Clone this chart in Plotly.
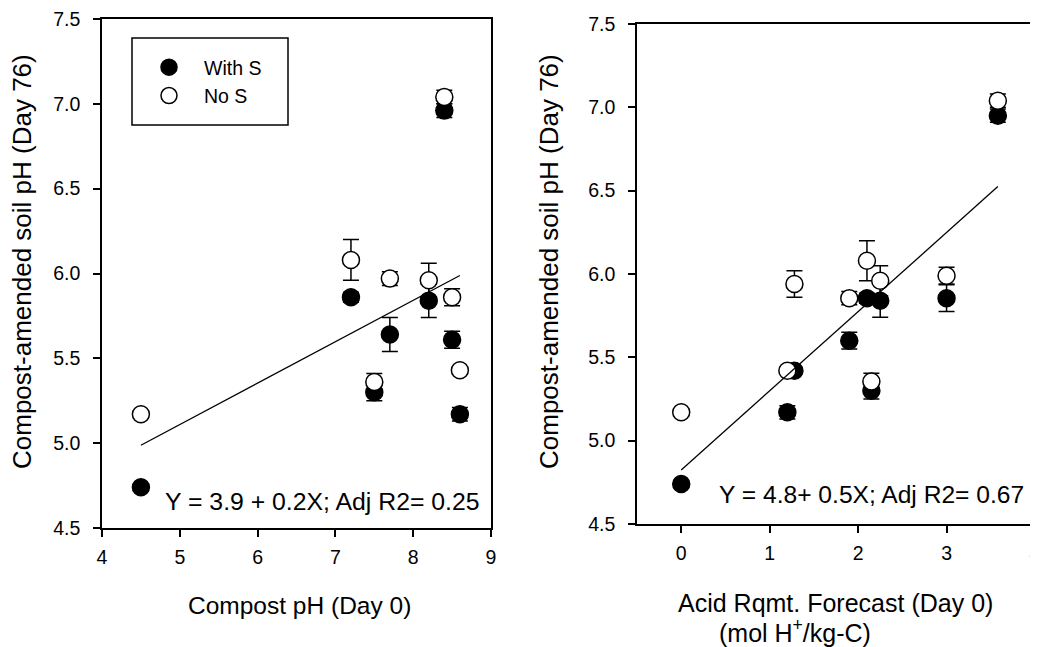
import plotly.graph_objects as go

# ---------------- data ----------------
# Left panel: compost pH (Day 0)
compost_ph = [4.5, 7.2, 7.5, 7.7, 8.2, 8.4, 8.5, 8.6]
with_s_left = [4.74, 5.86, 5.30, 5.64, 5.84, 6.96, 5.61, 5.17]
with_s_left_err = [0.02, 0.03, 0.05, 0.10, 0.10, 0.04, 0.05, 0.04]
no_s_left = [5.17, 6.08, 5.36, 5.97, 5.96, 7.04, 5.86, 5.43]
no_s_left_err = [0.02, 0.12, 0.05, 0.04, 0.10, 0.04, 0.05, 0.02]

# Right panel: acid requirement forecast (Day 0)
acid_rqmt = [0.0, 1.2, 1.28, 1.9, 2.1, 2.25, 2.15, 3.0, 3.58]
with_s_right = [4.74, 5.17, 5.42, 5.60, 5.855, 5.84, 5.30, 5.855, 6.95]
with_s_right_err = [0.02, 0.04, 0.02, 0.05, 0.03, 0.10, 0.05, 0.08, 0.04]
no_s_right = [5.17, 5.42, 5.94, 5.855, 6.08, 5.96, 5.355, 5.99, 7.04]
no_s_right_err = [0.02, 0.02, 0.08, 0.04, 0.12, 0.09, 0.05, 0.05, 0.04]

# Regression fits (intercept, slope)
fit_left = (3.89, 0.244)
fit_right = (4.824, 0.475)

left_tick_x = [4, 5, 6, 7, 8, 9]
right_tick_x = [0, 1, 2, 3, 4]
y_ticks = [4.5, 5.0, 5.5, 6.0, 6.5, 7.0, 7.5]

eq_left = "Y = 3.9 + 0.2X; Adj R2= 0.25"
eq_right = "Y = 4.8+ 0.5X; Adj R2= 0.67"

# ---------------- figure ----------------
# The page body has an 8px default margin, so the figure is drawn 8px in
# from the window's top-left corner; size and positions compensate for that.
OFF = 8
W, H = 1038 - OFF, 647 - OFF
FONT = "Arial, Liberation Sans, sans-serif"


def px_x(p):
    return (p - OFF) / W


def px_y(p):
    return 1 - (p - OFF) / H


fig = go.Figure()


def add_panel(x, ys, errs, xa, ya, fit, show_legend):
    styles = [
        ("With S", "black"),
        ("No S", "white"),
    ]
    for (name, fill), yv, ev in zip(styles, ys, errs):
        fig.add_trace(go.Scatter(
            x=x, y=yv, mode="markers", name=name,
            xaxis=xa, yaxis=ya, showlegend=show_legend,
            marker=dict(size=17, color=fill, line=dict(color="black", width=1.5)),
            error_y=dict(type="data", array=ev, visible=True, color="black",
                         thickness=1.5, width=8),
            cliponaxis=False,
        ))
    x0, x1 = min(x), max(x)
    b0, b1 = fit
    fig.add_trace(go.Scatter(
        x=[x0, x1], y=[b0 + b1 * x0, b0 + b1 * x1], mode="lines",
        xaxis=xa, yaxis=ya, showlegend=False,
        line=dict(color="black", width=1.3),
    ))


add_panel(compost_ph, [with_s_left, no_s_left], [with_s_left_err, no_s_left_err],
          "x", "y", fit_left, True)
add_panel(acid_rqmt, [with_s_right, no_s_right], [with_s_right_err, no_s_right_err],
          "x2", "y2", fit_right, False)

axis_common = dict(
    showgrid=False, zeroline=False, showline=True, linecolor="black", linewidth=1.5,
    mirror=True, ticks="outside", ticklen=7, tickwidth=1.5, tickcolor="black",
    tickfont=dict(family=FONT, size=19.5, color="black"), automargin=False,
    ticklabeloverflow="allow",
)

fig.update_layout(
    width=W, height=H,
    margin=dict(l=0, r=0, t=0, b=0),
    paper_bgcolor="white", plot_bgcolor="white",
    font=dict(family=FONT, color="black"),
    xaxis=dict(domain=[px_x(102), px_x(491)], range=[4, 9], tickvals=left_tick_x,
               anchor="y", ticklabelstandoff=4, **axis_common),
    yaxis=dict(domain=[px_y(528), px_y(19)], range=[4.5, 7.5], tickvals=y_ticks,
               tickformat=".1f", anchor="x", ticklabelstandoff=9, **axis_common),
    xaxis2=dict(domain=[px_x(637), px_x(1035)], range=[-0.5, 4], tickvals=right_tick_x,
                anchor="y2", ticklabelstandoff=4, **axis_common),
    yaxis2=dict(domain=[px_y(524), px_y(24)], range=[4.5, 7.5], tickvals=y_ticks,
                tickformat=".1f", anchor="x2", ticklabelstandoff=9, **axis_common),
    legend=dict(x=px_x(134), y=px_y(48), xanchor="left", yanchor="top",
                bgcolor="rgba(0,0,0,0)", borderwidth=0, itemwidth=60,
                font=dict(family=FONT, size=19.5, color="black"), tracegroupgap=0),
    shapes=[dict(type="rect", xref="paper", yref="paper",
                 x0=px_x(132), x1=px_x(288), y0=px_y(125), y1=px_y(38),
                 line=dict(color="black", width=1.5))],
)

ann = []
ann.append(dict(text="Compost-amended soil pH (Day 76)", x=px_x(22), y=px_y(262),
                textangle=-90, font=dict(size=26)))
ann.append(dict(text="Compost-amended soil pH (Day 76)", x=px_x(549), y=px_y(262),
                textangle=-90, font=dict(size=26)))
ann.append(dict(text="Compost pH (Day 0)", x=px_x(299), y=px_y(605), font=dict(size=24.5)))
ann.append(dict(text="Acid Rqmt. Forecast (Day 0)", x=px_x(835), y=px_y(603),
                font=dict(size=25)))
ann.append(dict(text="(mol H<sup>+</sup>/kg-C)", x=px_x(795), y=px_y(631),
                font=dict(size=25)))
ann.append(dict(text=eq_left, x=px_x(163), y=px_y(502), xanchor="left",
                font=dict(size=24.8)))
ann.append(dict(text=eq_right, x=px_x(717), y=px_y(494), xanchor="left",
                font=dict(size=24.6)))
for a in ann:
    a.setdefault("xanchor", "center")
    a.update(xref="paper", yref="paper", yanchor="middle", showarrow=False)
    a["font"].update(family=FONT, color="black")
fig.update_layout(annotations=ann)

fig.write_html("out.html")
